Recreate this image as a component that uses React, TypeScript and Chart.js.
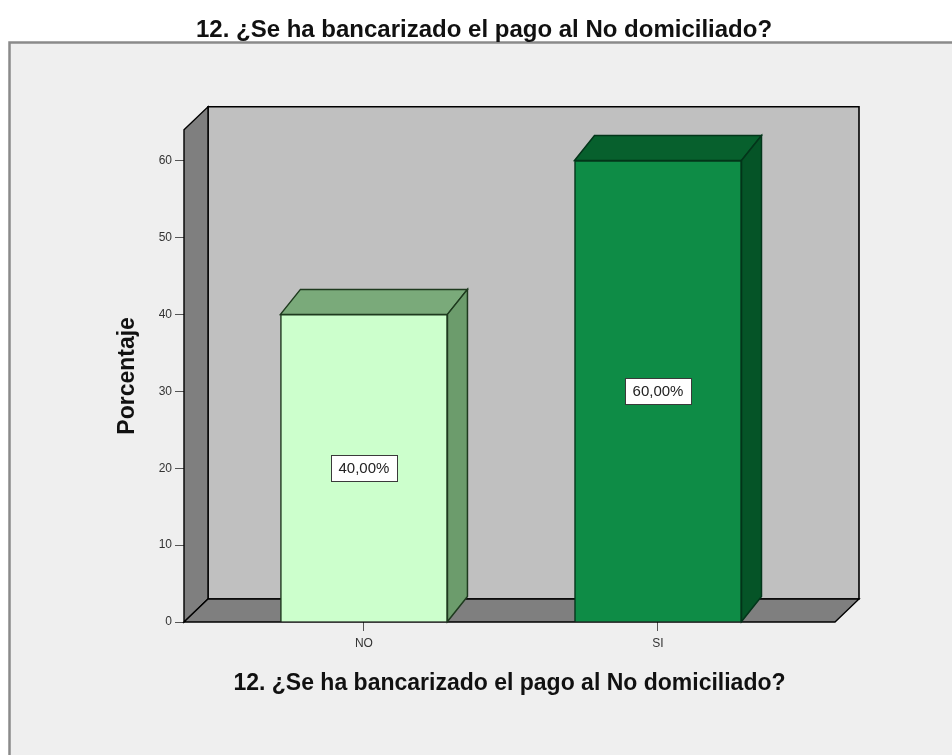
import { useEffect, useRef } from 'react';
import { Chart, registerables } from 'chart.js';

Chart.register(...registerables);

// Survey answers and their share of respondents (%)
const categories = ['NO', 'SI'];
const percentages = [40, 60];
const yTickValues = [0, 10, 20, 30, 40, 50, 60];
const chartTitle = '12. ¿Se ha bancarizado el pago al No domiciliado?';
const xAxisTitle = '12. ¿Se ha bancarizado el pago al No domiciliado?';
const yAxisTitle = 'Porcentaje';

const FONT = "'Liberation Sans', Arial, Helvetica, sans-serif";

// Face colours of each 3D bar: front, top, right side
const frontColors = ['#ccffcc', '#0e8c46'];
const topColors = ['#7aaa7a', '#07602d'];
const sideColors = ['#6c9c6c', '#055427'];
const edgeColors = ['#1e3a1e', '#03351a'];

// Depth offsets of the box walls and of the bars
const WALL = { dx: 24, dy: -23 };
const BAR = { dx: 20, dy: -25 };

type Pt = [number, number];

function poly(ctx: CanvasRenderingContext2D, pts: Pt[], fill: string, stroke: string, lw: number) {
  ctx.beginPath();
  ctx.moveTo(pts[0][0], pts[0][1]);
  for (let i = 1; i < pts.length; i++) ctx.lineTo(pts[i][0], pts[i][1]);
  ctx.closePath();
  ctx.fillStyle = fill;
  ctx.fill();
  ctx.strokeStyle = stroke;
  ctx.lineWidth = lw;
  ctx.lineJoin = 'miter';
  ctx.stroke();
}

const formatPct = (v: number) => v.toFixed(2).replace('.', ',') + '%';

const scenePlugin = {
  id: 'scene3d',
  beforeDraw(chart: any) {
    const { ctx, width, height } = chart;
    ctx.save();
    ctx.fillStyle = '#ffffff';
    ctx.fillRect(0, 0, width, height);
    // panel behind the plot
    ctx.fillStyle = '#efefef';
    ctx.fillRect(9, 42, width, height);
    ctx.strokeStyle = '#8a8a8a';
    ctx.lineWidth = 2.5;
    ctx.beginPath();
    ctx.moveTo(9.5, height);
    ctx.lineTo(9.5, 42.5);
    ctx.lineTo(width, 42.5);
    ctx.stroke();
    ctx.restore();
  },
  beforeDatasetsDraw(chart: any) {
    const { ctx } = chart;
    const { left: L, right: R, top: T, bottom: B } = chart.chartArea;
    const { dx, dy } = WALL;
    ctx.save();
    // back wall
    poly(ctx, [[L + dx, T + dy], [R + dx, T + dy], [R + dx, B + dy], [L + dx, B + dy]], '#c0c0c0', '#000000', 1.6);
    // left wall
    poly(ctx, [[L, T], [L + dx, T + dy], [L + dx, B + dy], [L, B]], '#7f7f7f', '#000000', 1.4);
    // floor
    poly(ctx, [[L, B], [L + dx, B + dy], [R + dx, B + dy], [R, B]], '#7f7f7f', '#000000', 1.4);

    // top and side faces of each bar
    const meta = chart.getDatasetMeta(0);
    meta.data.forEach((bar: any, i: number) => {
      const { x, y, base, width } = bar.getProps(['x', 'y', 'base', 'width'], true);
      const x1 = x - width / 2;
      const x2 = x + width / 2;
      poly(ctx, [[x1, y], [x1 + BAR.dx, y + BAR.dy], [x2 + BAR.dx, y + BAR.dy], [x2, y]], topColors[i], edgeColors[i], 1.5);
      poly(ctx, [[x2, y], [x2 + BAR.dx, y + BAR.dy], [x2 + BAR.dx, base + BAR.dy], [x2, base]], sideColors[i], edgeColors[i], 1.5);
    });
    ctx.restore();
  },
  afterDatasetsDraw(chart: any) {
    const { ctx } = chart;
    const yScale = chart.scales.y;
    const meta = chart.getDatasetMeta(0);
    ctx.save();
    ctx.font = `15px ${FONT}`;
    ctx.textAlign = 'center';
    ctx.textBaseline = 'middle';
    meta.data.forEach((bar: any, i: number) => {
      const v = percentages[i];
      const { x } = bar.getProps(['x'], true);
      const cy = yScale.getPixelForValue(v / 2);
      const text = formatPct(v);
      const w = 66;
      const h = 26;
      const bx = Math.round(x - w / 2) + 0.5;
      const by = Math.round(cy - h / 2) + 0.5;
      ctx.fillStyle = '#ffffff';
      ctx.fillRect(bx, by, w, h);
      ctx.strokeStyle = '#3a3a3a';
      ctx.lineWidth = 1;
      ctx.strokeRect(bx, by, w, h);
      ctx.fillStyle = '#222222';
      ctx.fillText(text, x, cy + 1);
    });
    ctx.restore();
  },
};

export default function App() {
  const canvasRef = useRef<HTMLCanvasElement | null>(null);

  useEffect(() => {
    const canvas = canvasRef.current;
    if (!canvas) return;
    const chart = new Chart(canvas, {
      type: 'bar',
      data: {
        datasets: [
          {
            label: yAxisTitle,
            data: percentages.map((v, i) => ({ x: i, y: v })),
            backgroundColor: frontColors,
            borderColor: edgeColors,
            borderWidth: 1.5,
            barThickness: 167,
          },
        ],
      },
      plugins: [scenePlugin],
      options: {
        responsive: false,
        animation: false,
        devicePixelRatio: 1,
        layout: { padding: { left: 16, right: 0, top: 0, bottom: 0 } },
        plugins: {
          legend: { display: false },
          tooltip: { enabled: false },
          title: {
            display: true,
            text: chartTitle,
            color: '#111111',
            font: { family: FONT, size: 24, weight: 'bold' },
            padding: { top: 16, bottom: 85 },
          },
        },
        scales: {
          x: {
            type: 'linear',
            offset: false,
            min: -0.612,
            max: 1.602,
            afterBuildTicks: (scale: any) => {
              scale.ticks = categories.map((_, i) => ({ value: i }));
            },
            afterFit: (scale: any) => {
              scale.height = 133;
            },
            ticks: {
              autoSkip: false,
              padding: 5,
              color: '#333333',
              font: { family: FONT, size: 12 },
              callback: (value: any) => categories[Number(value)] ?? '',
            },
            grid: { offset: false, drawOnChartArea: false, drawTicks: true, tickLength: 9, tickColor: '#555555' },
            border: { display: false },
            title: {
              display: true,
              text: xAxisTitle,
              color: '#111111',
              font: { family: FONT, size: 23, weight: 'bold' },
              padding: { top: 0, bottom: 58 },
            },
          },
          y: {
            type: 'linear',
            min: 0,
            max: 64,
            afterBuildTicks: (scale: any) => {
              scale.ticks = yTickValues.map((v) => ({ value: v }));
            },
            afterFit: (scale: any) => {
              scale.width = 168;
            },
            ticks: {
              padding: 3,
              color: '#333333',
              font: { family: FONT, size: 12 },
            },
            grid: { drawOnChartArea: false, drawTicks: true, tickLength: 9, tickColor: '#555555' },
            border: { display: false },
            title: {
              display: true,
              text: yAxisTitle,
              color: '#111111',
              font: { family: FONT, size: 23, weight: 'bold' },
              padding: { top: 98, bottom: 0 },
            },
          },
          // empty right-hand margin beside the box
          yMargin: {
            type: 'linear',
            position: 'right',
            display: true,
            min: 0,
            max: 64,
            afterFit: (scale: any) => {
              scale.width = 117;
            },
            ticks: { display: false },
            grid: { display: false, drawTicks: false },
            border: { display: false },
          },
        },
      },
    });
    return () => chart.destroy();
  }, []);

  return (
    <div style={{ position: 'absolute', left: 0, top: 0, width: 952, height: 755 }}>
      <canvas ref={canvasRef} width={952} height={755} style={{ display: 'block' }} />
    </div>
  );
}
